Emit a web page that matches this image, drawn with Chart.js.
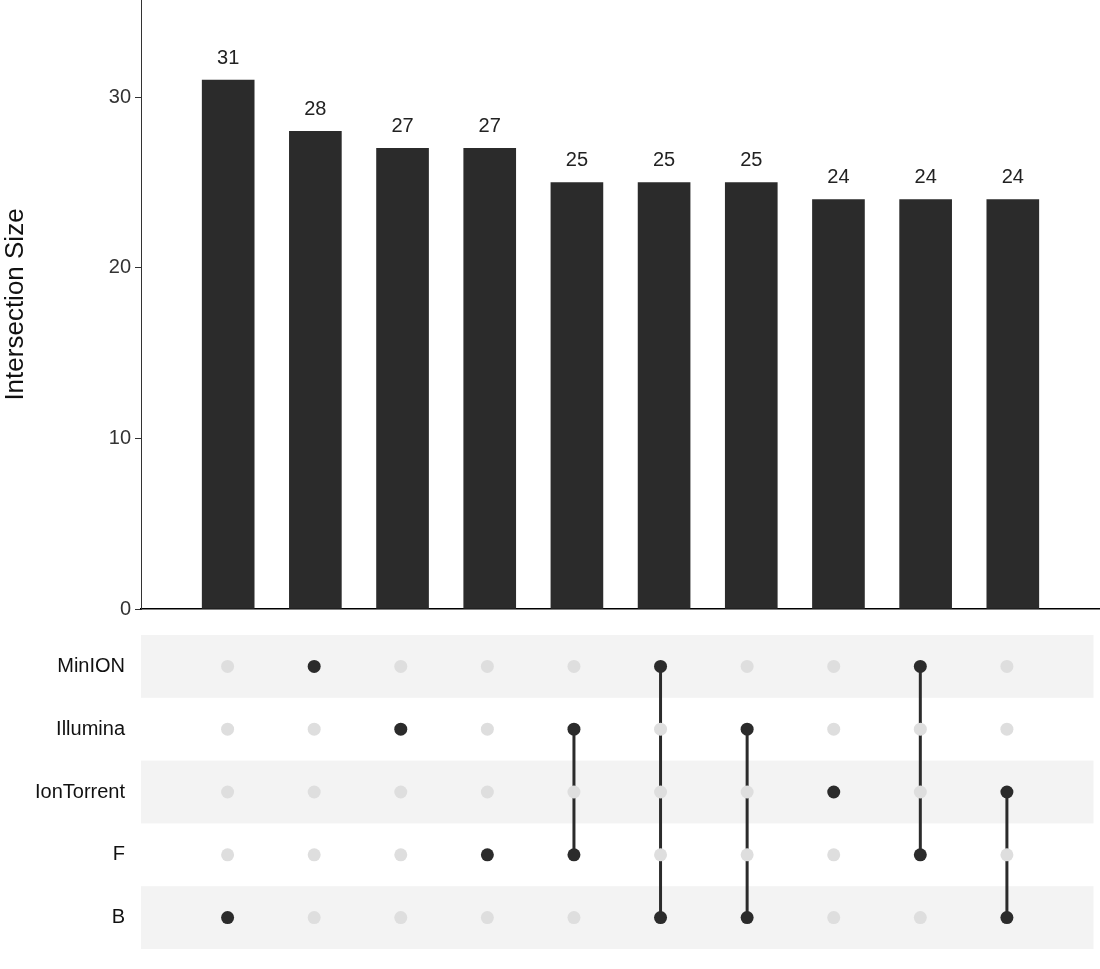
<!DOCTYPE html>
<html><head><meta charset="utf-8">
<script src="https://cdn.jsdelivr.net/npm/chart.js@4"></script>
<style>
body{margin:0;background:#fff;width:1100px;height:969px;position:relative;overflow:hidden}
</style></head><body>
<div style="position:absolute;left:0;top:-16px;width:1100px;height:641px"><canvas id="c1"></canvas></div>
<div style="position:absolute;left:0;top:615px;width:1100px;height:354px"><canvas id="c2"></canvas></div>
<div id="err" style="position:absolute;left:200px;top:700px;color:red;font:14px sans-serif"></div>
<script>
const sets = ["MinION","Illumina","IonTorrent","F","B"];
const sizes = [31,28,27,27,25,25,25,24,24,24];
const members = [["B"],["MinION"],["Illumina"],["F"],["Illumina","F"],["MinION","B"],["Illumina","B"],["IonTorrent"],["MinION","F"],["IonTorrent","B"]];
const yTicks = [0,10,20,30];
const FONT = "Liberation Sans, Arial, sans-serif";
const dark = "#2b2b2b";

const labelPlugin = {id:"lbl",afterDatasetsDraw(c){const ctx=c.ctx;const m=c.getDatasetMeta(0);
ctx.save();ctx.font="20px "+FONT;ctx.fillStyle="#222";ctx.textAlign="center";ctx.textBaseline="bottom";
m.data.forEach((b,i)=>ctx.fillText(sizes[i],b.x,b.y-12));ctx.restore();}};

try{
new Chart(document.getElementById("c1"),{type:"bar",
data:{datasets:[{data:sizes.map((v,i)=>({x:i+1,y:v})),backgroundColor:dark,barThickness:52}]},
options:{responsive:true,maintainAspectRatio:false,animation:false,
plugins:{legend:{display:false},tooltip:{enabled:false}},
scales:{
x:{type:"linear",offset:false,min:0,max:11,ticks:{display:false},grid:{display:false,offset:false},border:{display:true,color:"#000",width:1.5},afterFit(s){s.height=2;}},
y:{min:0,max:35.7,afterBuildTicks(s){s.ticks=yTicks.map(v=>({value:v}));},
ticks:{font:{size:20,family:FONT},color:"#333",padding:4},
grid:{display:true,drawOnChartArea:false,drawTicks:true,tickLength:6,color:"#333"},
border:{display:true,color:"#333",width:1},
title:{display:true,text:"Intersection Size",font:{size:26,family:FONT},color:"#111",padding:{top:0,bottom:10}},
afterFit(s){s.width=141;}}
}},plugins:[labelPlugin]});
}catch(e){document.getElementById("err").textContent+="c1: "+e.message;}

const bandPlugin={id:"bands",beforeDatasetsDraw(c){const ctx=c.ctx,a=c.chartArea,y=c.scales.y;
ctx.save();ctx.fillStyle="#f3f3f3";
sets.forEach((s,i)=>{if(i%2===0){const yc=4.5-i;const t=y.getPixelForValue(yc+0.5),b=y.getPixelForValue(yc-0.5);ctx.fillRect(a.left,t,a.right-a.left,b-t);}});
ctx.restore();}};

try{
const ds=[];
const gray=[];
members.forEach((m,i)=>sets.forEach((s,j)=>{if(!m.includes(s))gray.push({x:i+1,y:4.5-j});}));
ds.push({data:gray,pointRadius:6.5,pointBackgroundColor:"#dedede",pointBorderColor:"#dedede",pointBorderWidth:0,showLine:false});
members.forEach((m,i)=>{ds.push({data:m.map(s=>({x:i+1,y:4.5-sets.indexOf(s)})),pointRadius:6.5,pointBackgroundColor:dark,pointBorderColor:dark,pointBorderWidth:0,showLine:true,borderColor:dark,borderWidth:3});});

new Chart(document.getElementById("c2"),{type:"scatter",data:{datasets:ds},
options:{responsive:true,maintainAspectRatio:false,animation:false,
layout:{padding:{top:5,right:0,bottom:0,left:0}},
plugins:{legend:{display:false},tooltip:{enabled:false}},
scales:{
x:{type:"linear",min:0,max:11,display:false},
y:{type:"linear",min:0,max:5,afterBuildTicks(s){s.ticks=sets.map((n,j)=>({value:4.5-j}));},
ticks:{font:{size:20,family:FONT},color:"#111",padding:8,callback:(v)=>sets[Math.round(4.5-v)]},
grid:{display:false},border:{display:false},afterFit(s){s.width=141;}}
}},plugins:[bandPlugin]});
}catch(e){document.getElementById("err").textContent+=" c2: "+e.message;}
</script></body></html>
